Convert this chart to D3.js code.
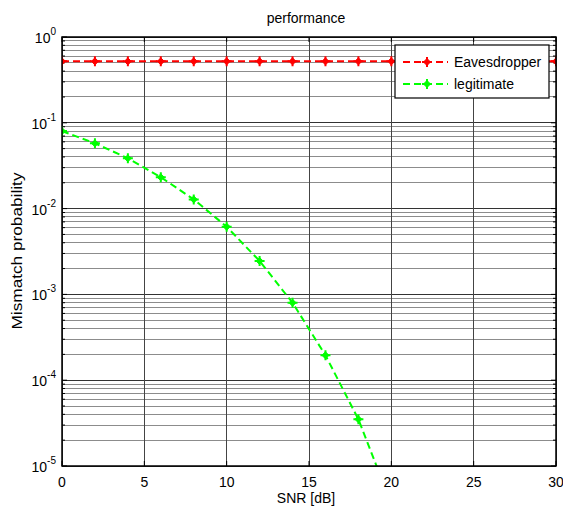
<!DOCTYPE html>
<html><head><meta charset="utf-8">
<script src="https://cdn.jsdelivr.net/npm/d3@7/dist/d3.min.js"></script>
<style>body{margin:0;background:#fff}svg{display:block;font-family:"Liberation Sans",Arial,sans-serif}</style>
</head><body>
<svg id="c" width="563" height="510"></svg>
<script>
const snr = [0,2,4,6,8,10,12,14,16,18,20,22,24,26,28,30];
const eaves = [0.52,0.52,0.52,0.52,0.52,0.52,0.52,0.52,0.52,0.52,0.52,0.52,0.52,0.52,0.52,0.52];
const legitSnr = [0,2,4,6,8,10,12,14,16,18,20];
const legit = [0.080,0.0577,0.0386,0.0232,0.0128,0.00615,0.00245,0.00080,0.000195,0.000035,0.0000036];
const xTicks = [0,5,10,15,20,25,30];
const yExps = [0,-1,-2,-3,-4,-5];
const seriesNames = ["Eavesdropper","legitimate"];
const colors = ["#ff0000","#00ff00"];

const svg = d3.select("#c");
const L=62, R=556, T=37, B=466;
const x = d3.scaleLinear().domain([0,30]).range([L,R]);
const y = d3.scaleLog().domain([1e-5,1]).range([B,T]);

// grid
const g = svg.append("g");
const minors = [];
for (let e=-5;e<0;e++) for (let k=2;k<=9;k++) minors.push(k*Math.pow(10,e));
g.selectAll(".mn").data(minors).enter().append("line")
  .attr("x1",L).attr("x2",R).attr("y1",d=>y(d)).attr("y2",d=>y(d))
  .attr("stroke","#8c8c8c").attr("stroke-width",1).attr("shape-rendering","crispEdges");
g.selectAll(".mj").data(yExps.map(e=>Math.pow(10,e))).enter().append("line")
  .attr("x1",L).attr("x2",R).attr("y1",d=>y(d)).attr("y2",d=>y(d))
  .attr("stroke","#333").attr("stroke-width",1).attr("shape-rendering","crispEdges");
g.selectAll(".vx").data(xTicks).enter().append("line")
  .attr("x1",d=>x(d)).attr("x2",d=>x(d)).attr("y1",T).attr("y2",B)
  .attr("stroke","#444").attr("stroke-width",1).attr("shape-rendering","crispEdges");

// axes ticks (inside)
const tk = svg.append("g");
xTicks.forEach(t=>{
  tk.append("line").attr("x1",x(t)).attr("x2",x(t)).attr("y1",B).attr("y2",B-5).attr("stroke","#000");
  tk.append("line").attr("x1",x(t)).attr("x2",x(t)).attr("y1",T).attr("y2",T+5).attr("stroke","#000");
});
minors.concat(yExps.map(e=>Math.pow(10,e))).forEach(v=>{
  const len = minors.includes(v)?3:5;
  tk.append("line").attr("x1",L).attr("x2",L+len).attr("y1",y(v)).attr("y2",y(v)).attr("stroke","#000");
  tk.append("line").attr("x1",R).attr("x2",R-len).attr("y1",y(v)).attr("y2",y(v)).attr("stroke","#000");
});

// tick labels
svg.selectAll(".xl").data(xTicks).enter().append("text")
  .attr("x",d=>x(d)).attr("y",B+21).attr("text-anchor","middle")
  .attr("font-size",14).text(d=>d);
yExps.forEach(e=>{
  const t = svg.append("text").attr("x",L-6).attr("y",y(Math.pow(10,e))+6)
    .attr("text-anchor","end").attr("font-size",14);
  t.append("tspan").text("10");
  t.append("tspan").attr("dy",-8).attr("font-size",10).text(e);
});

// clip
svg.append("clipPath").attr("id","cp").append("rect").attr("x",L).attr("y",T).attr("width",R-L).attr("height",B-T);

// series
const line = d3.line().x(d=>x(d[0])).y(d=>y(d[1]));
const series = [snr.map((s,i)=>[s,eaves[i]]), legitSnr.map((s,i)=>[s,legit[i]])];
function marker(sel, cx, cy, col){
  sel.append("path").attr("d",`M${cx-5},${cy}L${cx+5},${cy}M${cx},${cy-5}L${cx},${cy+5}`)
    .attr("stroke",col).attr("stroke-width",2);
  sel.append("path").attr("d",`M${cx-3.5},${cy}L${cx},${cy-3.5}L${cx+3.5},${cy}L${cx},${cy+3.5}Z`)
    .attr("fill",col).attr("stroke",col).attr("stroke-width",1);
}
const pg = svg.append("g").attr("clip-path","url(#cp)");
series.forEach((data,i)=>{
  pg.append("path").attr("d",line(data)).attr("fill","none").attr("stroke",colors[i])
    .attr("stroke-width",2).attr("stroke-dasharray","7,4");
});
series.forEach((data,i)=>{
  data.forEach(d=>{ if (d[1]>=1e-5) marker(pg, x(d[0]), y(d[1]), colors[i]); });
});

// frame
svg.append("rect").attr("x",L).attr("y",T).attr("width",R-L).attr("height",B-T)
  .attr("fill","none").attr("stroke","#000").attr("stroke-width",1.5);

// legend
const lg = svg.append("g");
lg.append("rect").attr("x",395).attr("y",45).attr("width",154).attr("height",53)
  .attr("fill","#fff").attr("stroke","#000").attr("stroke-width",1.2);
seriesNames.forEach((n,i)=>{
  const yy = 62 + i*22;
  lg.append("line").attr("x1",403).attr("x2",448).attr("y1",yy).attr("y2",yy)
    .attr("stroke",colors[i]).attr("stroke-width",2).attr("stroke-dasharray","7,4");
  marker(lg, 427, yy, colors[i]);
  lg.append("text").attr("x",454).attr("y",yy+5).attr("font-size",14).text(n);
});

// titles
svg.append("text").attr("x",306).attr("y",23).attr("text-anchor","middle").attr("font-size",14).text("performance");
svg.append("text").attr("x",306).attr("y",503).attr("text-anchor","middle").attr("font-size",14).text("SNR [dB]");
svg.append("text").attr("transform","translate(22,251) rotate(-90)").attr("text-anchor","middle")
  .attr("font-size",14).attr("textLength",157).attr("lengthAdjust","spacingAndGlyphs").text("Mismatch probability");
</script>
</body></html>
